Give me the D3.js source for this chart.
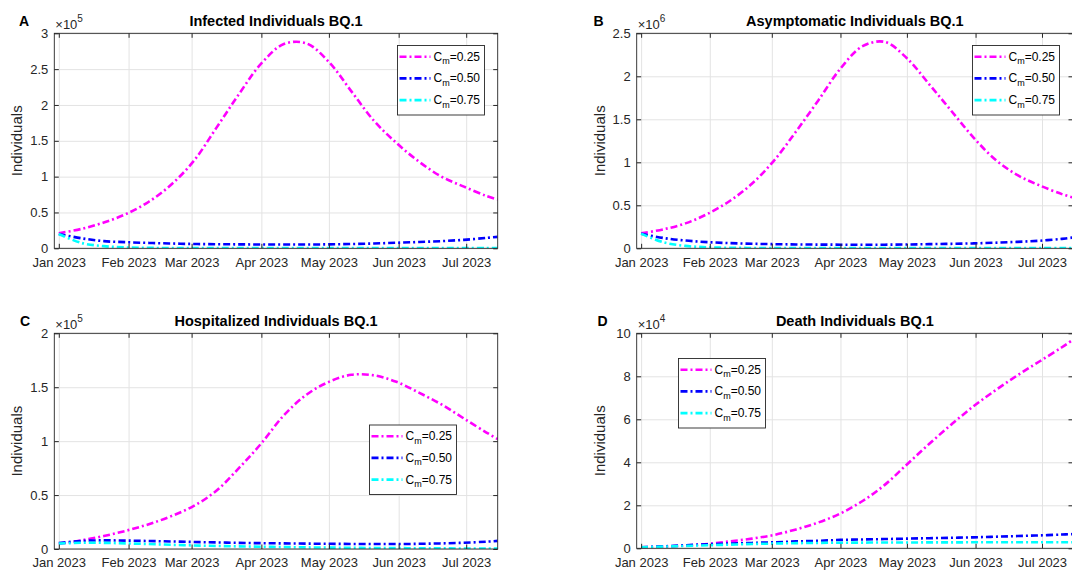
<!DOCTYPE html>
<html>
<head>
<meta charset="utf-8">
<script src="https://cdn.jsdelivr.net/npm/d3@7"></script>
<style>
  body { margin: 0; background: #fff; }
  text { font-family: "Liberation Sans", Arial, Helvetica, sans-serif; }
</style>
</head>
<body>
<svg id="chart" width="1072" height="570"></svg>
<script>
let days = [0, 10, 20, 30, 40, 50, 60, 70, 80, 90, 100, 110, 120, 130, 140, 150, 160, 170, 180, 190, 195];

let cmLabels = ['0.25', '0.50', '0.75'];
let lineColors = ['#ff00ff', '#0000ff', '#00ffff'];

// Infected
let infected25 = [21000, 27000, 36000, 48000, 65000, 89000, 122000, 168000, 215000, 258000, 285000, 286000, 260000, 219000, 178000, 147000, 121000, 100000, 86000, 73000, 68000];
let infected50 = [20000, 14000, 10000, 8500, 7500, 6700, 6000, 5700, 5500, 5300, 5200, 5300, 5500, 6000, 6700, 7700, 8800, 10000, 11800, 14500, 16000];
let infected75 = [20000, 7500, 3000, 1200, 600, 400, 300, 300, 250, 200, 200, 200, 200, 200, 200, 200, 200, 200, 200, 200, 200];

// Asymptomatic
let asymp25 = [174000, 220000, 290000, 400000, 550000, 750000, 1020000, 1360000, 1720000, 2090000, 2350000, 2400000, 2210000, 1910000, 1600000, 1290000, 1030000, 850000, 730000, 630000, 590000];
let asymp50 = [170000, 120000, 90000, 72000, 60000, 53000, 48000, 45000, 43000, 42000, 41000, 42000, 44000, 48000, 52000, 57000, 65000, 75000, 88000, 110000, 125000];
let asymp75 = [170000, 70000, 28000, 12000, 6000, 4000, 3000, 2500, 2000, 2000, 2000, 2000, 2000, 2000, 2000, 2000, 2000, 2000, 2000, 2000, 2000];

// Hospitalized
let hosp25 = [4600, 8000, 12000, 17000, 23000, 30500, 40000, 54000, 75000, 98000, 124000, 143000, 155000, 161500, 161000, 155000, 145000, 134000, 121000, 108000, 102000];
let hosp50 = [5500, 7500, 8000, 7800, 7400, 7000, 6500, 6100, 5700, 5400, 5200, 5000, 4800, 4700, 4600, 4600, 4800, 5200, 5800, 6800, 7500];
let hosp75 = [5000, 5800, 5700, 5200, 4600, 3900, 3300, 2800, 2400, 2100, 1800, 1500, 1300, 1100, 900, 800, 700, 600, 500, 500, 400];

// Death
let death25 = [500, 800, 1300, 2000, 3200, 4500, 6200, 8800, 12000, 16200, 22000, 29500, 39000, 48500, 57500, 66000, 73500, 80500, 87000, 93500, 97000];
let death50 = [500, 900, 1400, 1900, 2200, 2500, 2800, 3200, 3500, 3900, 4100, 4300, 4500, 4700, 4900, 5100, 5400, 5700, 6000, 6400, 6600];
let death75 = [500, 800, 1100, 1400, 1700, 2000, 2200, 2400, 2500, 2600, 2650, 2700, 2700, 2750, 2750, 2800, 2800, 2800, 2800, 2800, 2800];

let axisColor = '#262626';
let gridColor = '#e3e3e3';
let dash = '7,3,2,3';
let startDate = new Date(2023, 0, 1);
let svg = d3.select('#chart');

function toDate(d) {
    return d3.timeDay.offset(startDate, d);
}

function drawPanel(p) {
    let x = d3.scaleTime()
        .domain([new Date(2022, 11, 30), new Date(2023, 6, 15)])
        .range([p.left, p.right]);
    let y = d3.scaleLinear().domain([0, p.yMax]).range([p.bottom, p.top]);
    let h = p.bottom - p.top, w = p.right - p.left;
    let months = d3.timeMonth.range(new Date(2023, 0, 1), new Date(2023, 6, 2));
    let yTicks = d3.range(0, p.yMax + p.yStep / 2, p.yStep);
    let scale = Math.pow(10, p.exp);
    let g = svg.append('g');

    //grid
    g.append('g').attr('transform', `translate(0,${p.bottom})`)
        .call(d3.axisBottom(x).tickValues(months).tickSize(-h).tickFormat(''))
        .call(a => a.select('.domain').remove())
        .selectAll('line').attr('stroke', gridColor);
    g.append('g').attr('transform', `translate(${p.left},0)`)
        .call(d3.axisLeft(y).tickValues(yTicks).tickSize(-w).tickFormat(''))
        .call(a => a.select('.domain').remove())
        .selectAll('line').attr('stroke', gridColor);

    //curves
    let clipId = 'clip-' + p.tag;
    svg.append('clipPath').attr('id', clipId)
        .append('rect').attr('x', p.left).attr('y', p.top - 2).attr('width', w).attr('height', h + 2);
    let line = d3.line()
        .x(d => x(toDate(d[0])))
        .y(d => y(Math.max(d[1], 0)))
        .curve(d3.curveCatmullRom.alpha(0.5));
    p.series.forEach((s, i) => {
        g.append('path')
            .attr('clip-path', `url(#${clipId})`)
            .attr('d', line(d3.zip(days, s)))
            .attr('fill', 'none')
            .attr('stroke', lineColors[i])
            .attr('stroke-width', 2.6)
            .attr('stroke-dasharray', dash);
    });

    //axes (ticks inward on all four sides)
    let fontSize = 13;
    let xb = g.append('g').attr('transform', `translate(0,${p.bottom})`)
        .call(d3.axisBottom(x).tickValues(months).tickSize(-4.5).tickPadding(9)
            .tickFormat(d3.timeFormat('%b %Y')));
    let yl = g.append('g').attr('transform', `translate(${p.left},0)`)
        .call(d3.axisLeft(y).tickValues(yTicks).tickSize(-4.5).tickPadding(6)
            .tickFormat(v => d3.format('~g')(+(v / scale).toFixed(4))));
    let xt = g.append('g').attr('transform', `translate(0,${p.top})`)
        .call(d3.axisTop(x).tickValues(months).tickSize(-4.5).tickFormat(''));
    let yr = g.append('g').attr('transform', `translate(${p.right},0)`)
        .call(d3.axisRight(y).tickValues(yTicks).tickSize(-4.5).tickFormat(''));
    [xb, yl, xt, yr].forEach(a => {
        a.select('.domain').remove();
        a.selectAll('line').attr('stroke', axisColor);
        a.selectAll('text')
            .attr('fill', axisColor)
            .attr('font-size', fontSize)
            .style('font-family', '"Liberation Sans", Arial, sans-serif');
    });
    xb.selectAll('text').attr('dy', '0.72em');

    g.append('rect')
        .attr('x', p.left).attr('y', p.top)
        .attr('width', w).attr('height', h)
        .attr('fill', 'none')
        .attr('stroke', axisColor)
        .attr('stroke-width', 0.9);

    //title, letter, y label, exponent
    g.append('text')
        .attr('x', (p.left + p.right) / 2)
        .attr('y', p.top - 7)
        .attr('text-anchor', 'middle')
        .attr('font-size', 14.5)
        .attr('font-weight', 'bold')
        .attr('fill', '#000')
        .text(p.title);
    g.append('text')
        .attr('x', p.letterX)
        .attr('y', p.top - 7)
        .attr('font-size', 14)
        .attr('font-weight', 'bold')
        .attr('fill', '#000')
        .text(p.tag);
    g.append('text')
        .attr('transform', `translate(${p.left - 32},${(p.top + p.bottom) / 2}) rotate(-90)`)
        .attr('text-anchor', 'middle')
        .attr('font-size', 15)
        .attr('fill', axisColor)
        .text('Individuals');
    let ex = g.append('text')
        .attr('x', p.left + 1)
        .attr('y', p.top - 4)
        .attr('font-size', 13)
        .attr('fill', axisColor);
    ex.append('tspan').text('\u00d710');
    ex.append('tspan').attr('dy', -7).attr('font-size', 10).text(p.exp);

    //legend
    let lg = g.append('g').attr('transform', `translate(${p.legend[0]},${p.legend[1]})`);
    lg.append('rect')
        .attr('width', 87).attr('height', 69.5)
        .attr('fill', '#fff')
        .attr('stroke', axisColor)
        .attr('stroke-width', 0.9);
    cmLabels.forEach((c, i) => {
        let ly = 11.2 + i * 21.7;
        lg.append('line')
            .attr('x1', 2).attr('x2', 33)
            .attr('y1', ly).attr('y2', ly)
            .attr('stroke', lineColors[i])
            .attr('stroke-width', 2.6)
            .attr('stroke-dasharray', dash);
        let t = lg.append('text')
            .attr('x', 36).attr('y', ly + 4)
            .attr('font-size', 12)
            .attr('fill', '#000');
        t.append('tspan').text('C');
        t.append('tspan').attr('dy', 3.5).attr('font-size', 9).text('m');
        t.append('tspan').attr('dy', -3.5).text('=' + c);
    });
}

drawPanel({
    tag: 'A', title: 'Infected Individuals BQ.1', letterX: 19,
    left: 54.3, right: 497.7, top: 33.3, bottom: 248.3,
    yMax: 3e5, yStep: 0.5e5, exp: 5,
    series: [infected25, infected50, infected75], legend: [397.5, 45.5]
});
drawPanel({
    tag: 'B', title: 'Asymptomatic Individuals BQ.1', letterX: 593.5,
    left: 636.7, right: 1073, top: 33.3, bottom: 248.3,
    yMax: 2.5e6, yStep: 0.5e6, exp: 6,
    series: [asymp25, asymp50, asymp75], legend: [972.5, 45.5]
});
drawPanel({
    tag: 'C', title: 'Hospitalized Individuals BQ.1', letterX: 20,
    left: 54.3, right: 497.7, top: 333.3, bottom: 549,
    yMax: 2e5, yStep: 0.5e5, exp: 5,
    series: [hosp25, hosp50, hosp75], legend: [369.5, 425]
});
drawPanel({
    tag: 'D', title: 'Death Individuals BQ.1', letterX: 597.5,
    left: 636.7, right: 1073, top: 333.3, bottom: 548.3,
    yMax: 1e5, yStep: 2e4, exp: 4,
    series: [death25, death50, death75], legend: [678.5, 358.5]
});
</script>
</body>
</html>
